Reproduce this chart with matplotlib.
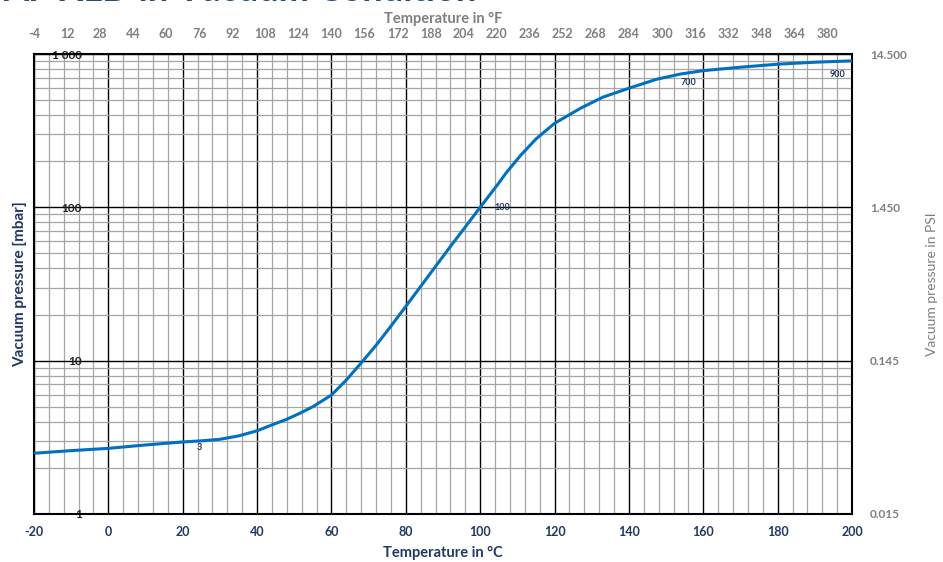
import matplotlib
matplotlib.use("Agg")
import matplotlib.pyplot as plt
from matplotlib.ticker import FixedLocator, NullFormatter

plt.rcParams['font.family'] = ['Lato', 'DejaVu Sans']

# ---- data ----
temp_c = [-20, -10, 0, 10, 20, 25, 30, 35, 40, 44, 48, 51.5, 55, 60, 64, 68,
          72, 76, 80, 84, 87.4, 92, 96.4, 100, 105, 107, 111, 115, 120, 127,
          133, 140, 147.5, 154, 160, 170, 180, 190, 200]
pressure_mbar = [2.49, 2.59, 2.68, 2.82, 2.95, 3.0, 3.07, 3.23, 3.49, 3.81,
                 4.15, 4.54, 5.01, 5.97, 7.48, 9.66, 12.6, 16.8, 22.6, 30.5,
                 39.4, 55.6, 76.7, 100.0, 144.0, 168.0, 220.0, 279.0, 353.0,
                 443.0, 523.0, 598.0, 685.0, 741.0, 779.0, 820.0, 858.0, 884.0,
                 902.0]

annot_text = ["3", "100", "700", "900"]
annot_x = [24.5, 106, 156, 196]
annot_y = [2.70, 100, 651, 738]

c_ticks = [-20, 0, 20, 40, 60, 80, 100, 120, 140, 160, 180, 200]
f_ticks = [-4, 12, 28, 44, 60, 76, 92, 108, 124, 140, 156, 172, 188, 204, 220,
           236, 252, 268, 284, 300, 316, 332, 348, 364, 380]
mbar_ticks = [1, 10, 100, 1000]
mbar_labels = ["1", "10", "100", "1 000"]
psi_labels = ["0.015", "0.145", "1.450", "14.500"]

NAVY = "#1F3864"
GRAY = "#7F7F7F"
LINE = "#0070C0"

fig = plt.figure(figsize=(9.43, 5.62), dpi=100)
ax = fig.add_axes([34/943, 1-514/562, (852-34)/943, (514-54)/562])

ax.plot(temp_c, pressure_mbar, color=LINE, lw=2.2, zorder=5,
        solid_capstyle='round', solid_joinstyle='round')

ax.set_yscale('log')
ax.set_xlim(-20, 200)
ax.set_ylim(1, 1000)

# grid
ax.xaxis.set_major_locator(FixedLocator(c_ticks))
ax.xaxis.set_minor_locator(FixedLocator([t for t in range(-20, 201, 4) if t % 20 != 0]))
ax.yaxis.set_major_locator(FixedLocator(mbar_ticks))
ax.yaxis.set_minor_locator(FixedLocator([m * d for d in (1, 10, 100) for m in range(2, 10)]))
ax.yaxis.set_minor_formatter(NullFormatter())
ax.grid(which='minor', color='#A6A6A6', lw=0.9)
ax.grid(which='major', color='black', lw=1.0)
ax.set_axisbelow(True)

for s in ax.spines.values():
    s.set_linewidth(1.5)
    s.set_color('black')

ax.set_xticklabels([str(t) for t in c_ticks])
ax.set_yticklabels(mbar_labels)
ax.tick_params(axis='x', which='both', length=0, pad=9, labelsize=9,
               labelcolor=NAVY)
ax.tick_params(axis='y', which='both', length=0, pad=-34.5, labelsize=8.5)
for lbl in ax.get_xticklabels():
    lbl.set_fontweight('bold')
for lbl in ax.get_yticklabels():
    lbl.set_fontweight('bold')
    lbl.set_color('#222222')

ax.set_xlabel("Temperature in °C", fontsize=10.5, fontweight='bold', color=NAVY,
              labelpad=5)
ax.set_ylabel("Vacuum pressure [mbar]", fontsize=11, fontweight='bold', color=NAVY,
              labelpad=5)

# annotations
for t, x, y in zip(annot_text, annot_x, annot_y):
    ax.text(x, y, t, fontsize=6.5, fontweight='bold', color=NAVY,
            ha='center', va='center', zorder=6)

# top Fahrenheit axis
secx = ax.secondary_xaxis('top', functions=(lambda c: c * 9 / 5 + 32,
                                            lambda f: (f - 32) * 5 / 9))
secx.set_xticks(f_ticks)
secx.set_xticklabels([str(f) for f in f_ticks])
secx.tick_params(length=0, pad=10, labelsize=9, labelcolor=GRAY)
for lbl in secx.get_xticklabels():
    lbl.set_fontweight('bold')
secx.spines['top'].set_visible(False)
secx.set_xlabel("Temperature in °F", fontsize=10.5, fontweight='bold', color=GRAY,
                labelpad=4)

# right PSI axis
ax2 = ax.twinx()
ax2.set_yscale('log')
ax2.set_ylim(1, 1000)
ax2.yaxis.set_major_locator(FixedLocator(mbar_ticks))
ax2.yaxis.set_minor_locator(FixedLocator([]))
ax2.set_yticklabels(psi_labels)
ax2.tick_params(axis='y', length=0, pad=13, labelsize=8.5, labelcolor=GRAY)
for lbl in ax2.get_yticklabels():
    lbl.set_fontweight('bold')
for s in ax2.spines.values():
    s.set_visible(False)
ax2.set_ylabel("Vacuum pressure in PSI", fontsize=10, color=GRAY, labelpad=14)

# cut-off title (only its lower part is inside the picture, as in the reference)
fig.text(3/943, 1 - 1/562, "AP XLD in Vacuum Condition", fontsize=26,
         fontweight='bold', color="#1F4E79", ha='left', va='baseline')

fig.savefig("out.png", dpi=100)
